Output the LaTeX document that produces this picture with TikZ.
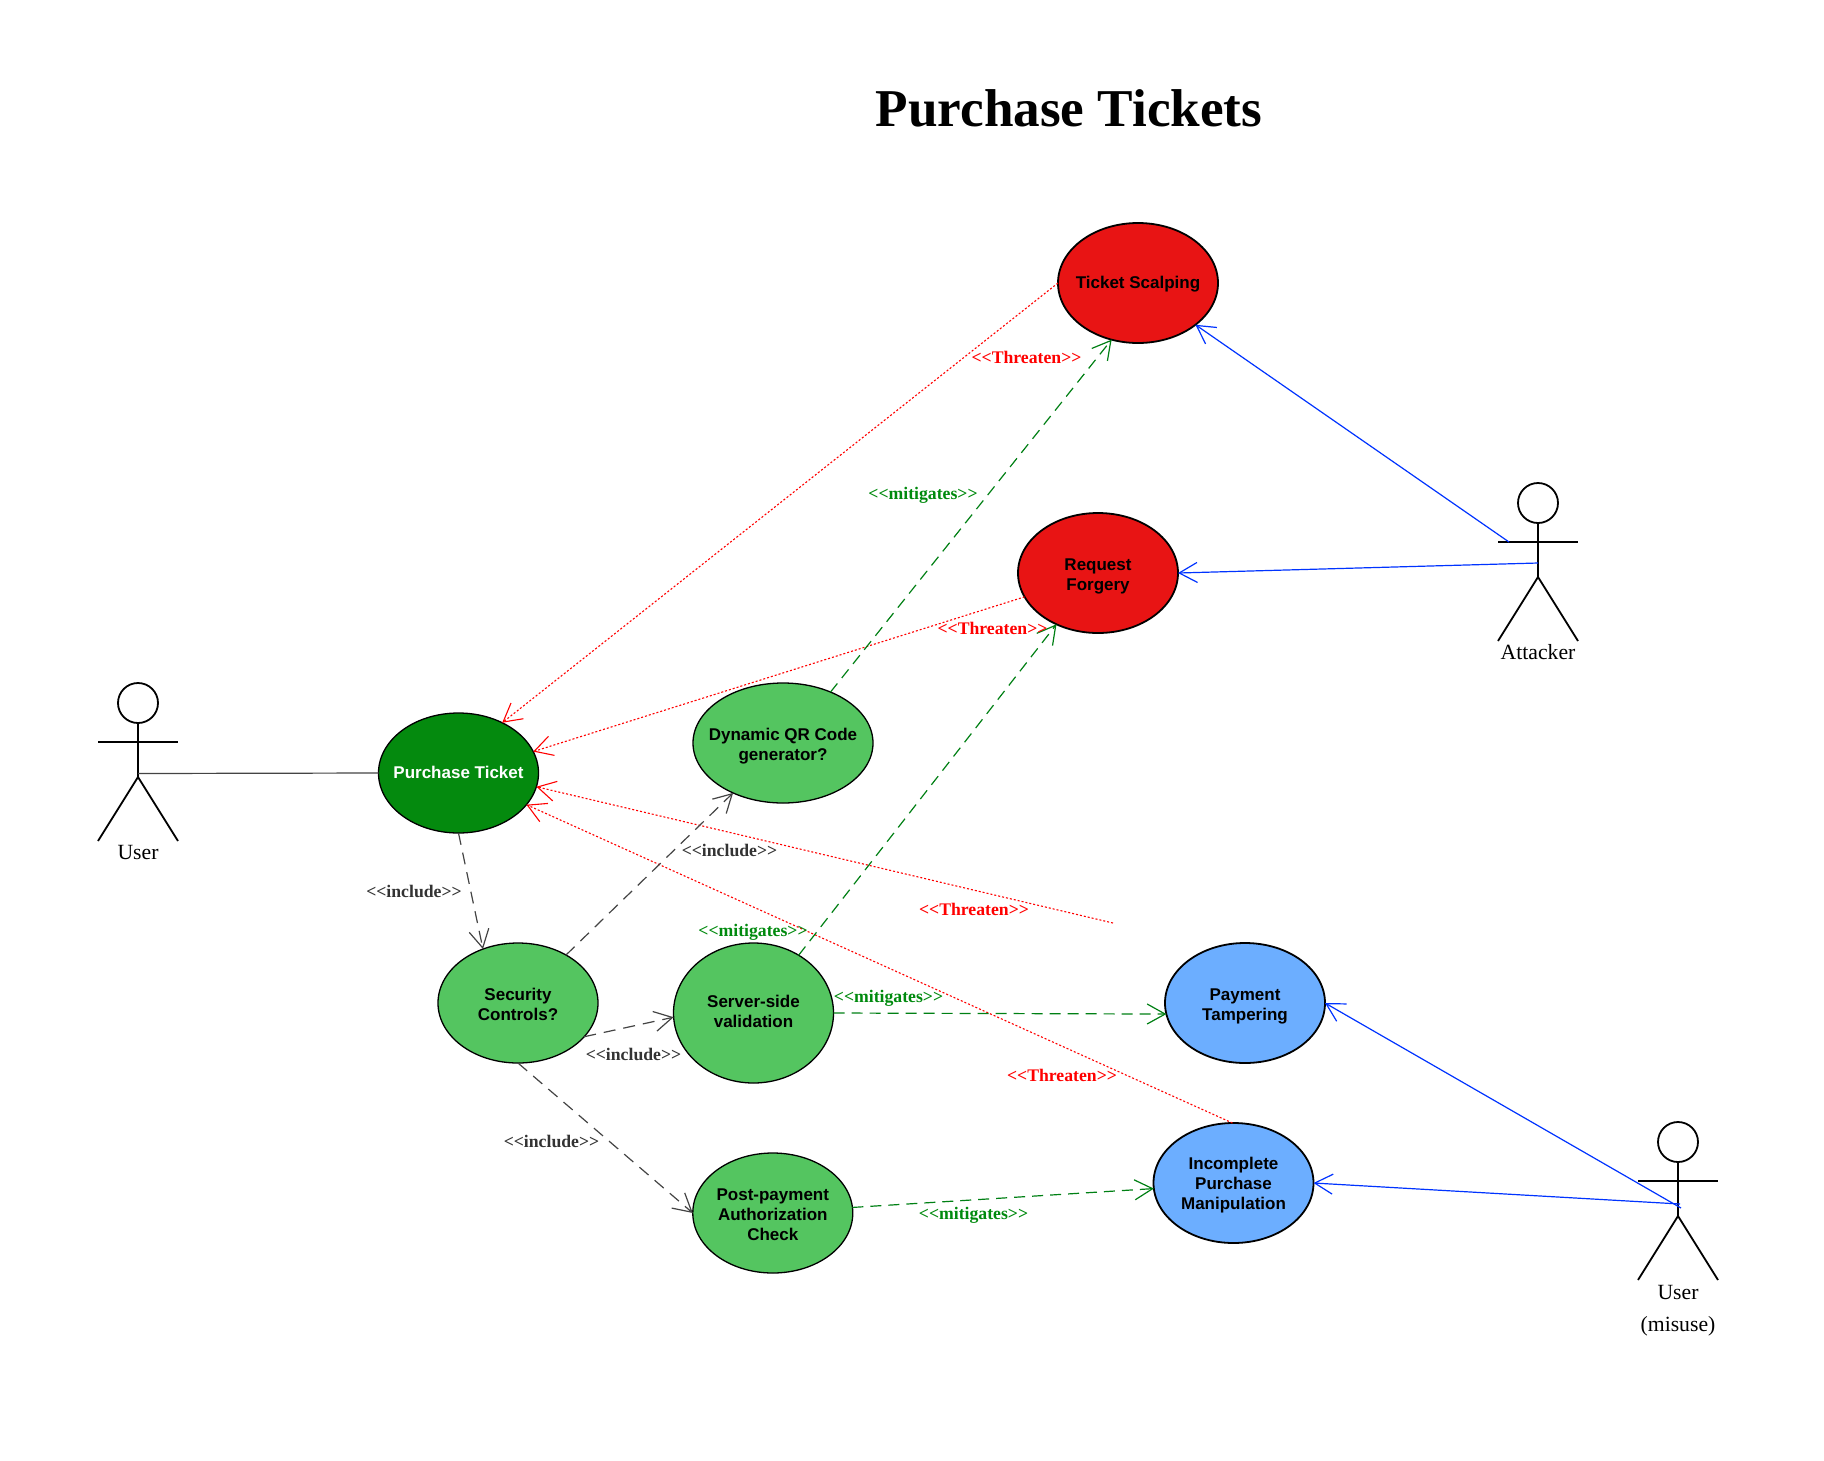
\documentclass[tikz,border=0pt]{standalone}
\usepackage{fontspec}
\setmainfont{Liberation Serif}
\newfontfamily\ucsans{Liberation Sans}
\usetikzlibrary{shapes.geometric,arrows.meta}
\definecolor{dkgreen}{RGB}{4,138,14}
\definecolor{ltgreen}{RGB}{84,197,96}
\definecolor{ucred}{RGB}{232,20,20}
\definecolor{ucblue}{RGB}{108,174,255}
\definecolor{linered}{RGB}{255,0,0}
\definecolor{linegreen}{RGB}{0,128,20}
\definecolor{lineblue}{RGB}{0,51,255}
\definecolor{linegray}{RGB}{68,68,68}
\definecolor{labgray}{RGB}{51,51,51}
\definecolor{labgreen}{RGB}{0,138,14}
\newcommand{\dn}[1]{\rule{0pt}{\dimexpr 12.3pt+#1pt*2\relax}}
\newcommand{\up}[1]{\rule[-#1pt]{0pt}{#1pt}}
\tikzset{
  uc/.style={ellipse,draw=black,line width=1.3pt,inner sep=-25pt,outer sep=0pt,
    minimum width=160pt,minimum height=120pt,align=center,
    font=\ucsans\bfseries\fontsize{17}{20}\selectfont},
  ucwide/.style={uc,minimum width=180pt},
  uctall/.style={uc,minimum height=140pt},
  ucdark/.style={fill=dkgreen,text=white},
  uclight/.style={fill=ltgreen},
  ucthreat/.style={fill=ucred,line width=1.8pt},
  ucmis/.style={fill=ucblue,line width=1.8pt},
  tip/.style={-{Straight Barb[length=18pt,width=20pt]}},
  threatline/.style={tip,draw=linered,line width=1.1pt,dash pattern=on 2pt off 2pt},
  mitline/.style={tip,draw=linegreen,line width=1.2pt,dash pattern=on 11pt off 7pt},
  incline/.style={tip,draw=linegray,line width=1.2pt,dash pattern=on 12pt off 8pt},
  attackline/.style={tip,draw=lineblue,line width=1.2pt},
  lab/.style={inner sep=0pt,font=\bfseries\fontsize{17.7}{20}\selectfont},
  labT/.style={lab,text=linered},
  labM/.style={lab,text=labgreen},
  labI/.style={lab,text=labgray},
  actorlab/.style={inner sep=0pt,align=center,font=\fontsize{21.7}{32}\selectfont},
  actorline/.style={draw=black,line width=1.8pt},
  head/.style={circle,draw=black,line width=1.8pt,minimum size=40pt,inner sep=0pt,outer sep=0pt}
}
% #1 name, #2 centre x, #3 top y
\newcommand{\drawactor}[3]{%
  \node[head] (#1head) at (#2,#3+20) {};
  \coordinate (#1armL) at (#2-40,#3+59);
  \coordinate (#1armR) at (#2+40,#3+59);
  \coordinate (#1hip) at (#2,#3+94);
  \coordinate (#1footL) at (#2-40,#3+158);
  \coordinate (#1footR) at (#2+40,#3+158);
  \draw[actorline] (#1head.south) -- (#1hip);
  \draw[actorline] (#1armL) -- (#1armR);
  \draw[actorline] (#1footL) -- (#1hip) -- (#1footR);
}
\begin{document}
\begin{tikzpicture}[x=1pt,y=-1pt]
\useasboundingbox (0,0) rectangle (1824,1460);
\fill[white] (0,0) rectangle (1824,1460);

\node[inner sep=0pt,font=\bfseries\fontsize{53.2}{58}\selectfont] (title) at (1069,108) {Purchase Tickets};

\drawactor{user}{138}{683}
\drawactor{att}{1538}{483}
\drawactor{mis}{1678}{1122}
\node[actorlab] (userlab) at (138,852) {User};
\node[actorlab] (attlab) at (1538,652) {Attacker};
\node[actorlab] (mislab) at (1678,1310.5) {User\\(misuse)};

\coordinate (userc) at (138,773.5);
\coordinate (attarm) at (1509,542);
\coordinate (attmid) at (1538,563);
\coordinate (mismid1) at (1681,1208);
\coordinate (mismid2) at (1680,1204);
\coordinate (freeend) at (1113,923);

\node[uc,ucdark] (pt) at (458.5,773) {\up{1.5}Purchase Ticket};
\node[ucwide,uclight] (qr) at (783,743) {\dn{3.5}Dynamic QR Code\\generator?};
\node[uc,uclight] (sec) at (518,1003) {\dn{1.2}Security\\Controls?};
\node[uctall,uclight] (srv) at (753.5,1013) {Server-side\\validation\up{3.4}};
\node[uc,uclight] (post) at (772.8,1213) {\dn{1}Post-payment\\Authorization\\Check};
\node[uc,ucthreat] (ts) at (1138,283) {\dn{1.2}Ticket Scalping};
\node[uc,ucthreat] (rf) at (1098,573) {\dn{3.5}Request\\Forgery};
\node[uc,ucmis] (pay) at (1245,1003) {\dn{3.5}Payment\\Tampering};
\node[uc,ucmis] (inc) at (1233.5,1183) {\dn{2.3}Incomplete\\Purchase\\Manipulation};

\draw[draw=linegray,line width=1.2pt] (userc) -- (pt.west);

\draw[threatline] (ts.west) -- (pt.49.3);
\draw[threatline] (rf.198.8) -- (pt.16.6);
\draw[threatline] (freeend) -- (pt.-10.5);
\draw[threatline] (inc.91) -- (pt.-25.4);

\draw[incline] (pt.south) -- (sec.123);
\draw[incline] (sec.45) -- (qr.225);
\draw[incline] (sec.-27) -- (srv.183);
\draw[incline] (sec.south) -- (post.west);

\draw[mitline] (qr.47) -- (ts.245);
\draw[mitline] (srv.52) -- (rf.231.8);
\draw[mitline] (srv.east) -- (pay.188);
\draw[mitline] (post.4) -- (inc.184);

\draw[attackline] (attarm) -- (ts.-36);
\draw[attackline] (attmid) -- (rf.east);
\draw[attackline] (mismid1) -- (pay.east);
\draw[attackline] (mismid2) -- (inc.east);

\node[labT] (t1) at (1026.5,357) {<{}<Threaten>{}>};
\node[labT] (t2) at (992.5,628) {<{}<Threaten>{}>};
\node[labT] (t3) at (974,909) {<{}<Threaten>{}>};
\node[labT] (t4) at (1062,1075) {<{}<Threaten>{}>};
\node[labM] (m1) at (923,495.5) {<{}<mitigates>{}>};
\node[labM] (m2) at (753,932) {<{}<mitigates>{}>};
\node[labM] (m3) at (888.5,998) {<{}<mitigates>{}>};
\node[labM] (m4) at (973.5,1215) {<{}<mitigates>{}>};
\node[labI] (i1) at (414,891) {<{}<include>{}>};
\node[labI] (i2) at (729.5,850) {<{}<include>{}>};
\node[labI] (i3) at (633.5,1054) {<{}<include>{}>};
\node[labI] (i4) at (551.5,1141) {<{}<include>{}>};
\end{tikzpicture}
\end{document}
